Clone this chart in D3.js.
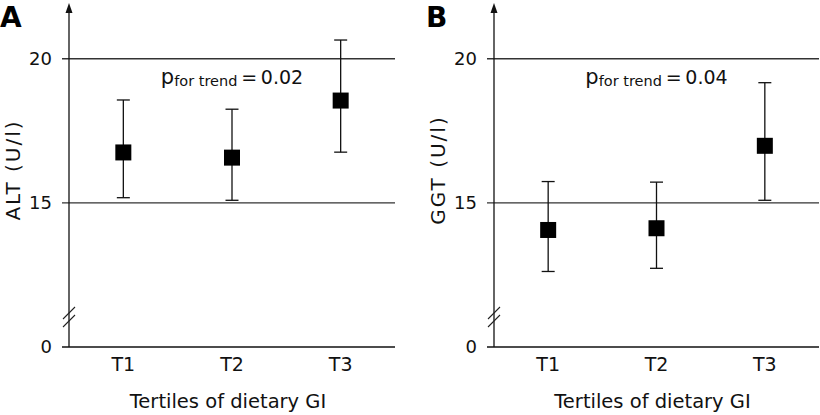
<!DOCTYPE html>
<html><head><meta charset="utf-8">
<script src="https://cdn.jsdelivr.net/npm/d3@7"></script>
<style>
html,body{margin:0;padding:0;background:#fff;}
svg{display:block;font-family:"DejaVu Sans",sans-serif;}
</style></head>
<body><svg id="c" width="820" height="415"></svg>
<script>
const categories = ["T1","T2","T3"];
const altMean = [16.75, 16.57, 18.55];
const altLow  = [15.18, 15.09, 16.76];
const altHigh = [18.57, 18.25, 20.65];
const ggtMean = [14.06, 14.12, 16.98];
const ggtLow  = [12.62, 12.73, 15.09];
const ggtHigh = [15.74, 15.72, 19.17];
const yTicks = [0, 15, 20];
// broken axis: visible range runs from 10 (shown as "0" below the break) up to ~21.9
const yDomain = [10, 21.9];
const panelLetters = ["A", "B"];
const yTitles = ["ALT (U/l)", "GGT (U/l)"];
const pValues = ["0.02", "0.04"];
const xTitle = "Tertiles of dietary GI";

const svg = d3.select("#c");
const panels = [
  {left: 69, right: 395, mean: altMean, low: altLow, high: altHigh},
  {left: 494, right: 819, mean: ggtMean, low: ggtLow, high: ggtHigh}
];

panels.forEach((p, i) => {
  const g = svg.append("g");
  const y = d3.scaleLinear().domain(yDomain).range([347, 4]);
  const yPos = t => t < yDomain[0] ? y(yDomain[0]) : y(t);
  const x = d3.scaleBand().domain(categories).range([p.left, p.right]).padding(0);
  const cx = c => x(c) + x.bandwidth() / 2;

  // horizontal reference lines & ticks
  yTicks.forEach(t => {
    g.append("line").attr("x1", p.left - 7).attr("x2", p.right)
      .attr("y1", yPos(t)).attr("y2", yPos(t))
      .attr("stroke", t === 0 ? "#111" : "#333").attr("stroke-width", 1.3);
    g.append("text").attr("x", p.left - 17).attr("y", yPos(t)).attr("dy", "0.36em")
      .attr("text-anchor", "end").attr("font-size", 18).attr("fill", "#111").text(t);
  });

  // y axis line with arrow
  const yTop = y(yDomain[1]);
  g.append("line").attr("x1", p.left).attr("x2", p.left)
    .attr("y1", y(yDomain[0])).attr("y2", yTop + 6).attr("stroke", "#111").attr("stroke-width", 1.3);
  g.append("path")
    .attr("d", `M${p.left},${yTop - 1} L${p.left - 3.5},${yTop + 9} L${p.left + 3.5},${yTop + 9} Z`)
    .attr("fill", "#111");

  // axis break marks
  const yb = y(yDomain[0]) - 30;
  [-4, 4].forEach(o => {
    g.append("line").attr("x1", p.left - 6).attr("x2", p.left + 6)
      .attr("y1", yb + o + 6).attr("y2", yb + o - 6)
      .attr("stroke", "#222").attr("stroke-width", 1.1);
  });

  // error bars
  categories.forEach((c, k) => {
    const xc = cx(c);
    g.append("line").attr("x1", xc).attr("x2", xc)
      .attr("y1", y(p.low[k])).attr("y2", y(p.high[k]))
      .attr("stroke", "#111").attr("stroke-width", 1.3);
    [p.low[k], p.high[k]].forEach(v => {
      g.append("line").attr("x1", xc - 6.5).attr("x2", xc + 6.5)
        .attr("y1", y(v)).attr("y2", y(v))
        .attr("stroke", "#111").attr("stroke-width", 1.3);
    });
    g.append("rect").attr("x", xc - 8).attr("y", y(p.mean[k]) - 8)
      .attr("width", 16).attr("height", 16).attr("fill", "#000");
    // x tick labels
    g.append("text").attr("x", xc).attr("y", 371).attr("text-anchor", "middle")
      .attr("font-size", 19).attr("fill", "#111").text(c);
  });

  // x title
  g.append("text").attr("x", (p.left + p.right) / 2 - 4).attr("y", 408)
    .attr("text-anchor", "middle").attr("font-size", 19.5).attr("fill", "#111").text(xTitle);

  // y title
  const ytx = p.left - 49;
  g.append("text").attr("transform", `translate(${ytx},170) rotate(-90)`)
    .attr("text-anchor", "middle").attr("font-size", 20).attr("letter-spacing", 2)
    .attr("fill", "#111").text(yTitles[i]);

  // panel letter
  g.append("text").attr("x", p.left - 69 + (i ? 1 : 0)).attr("y", 27)
    .attr("font-size", 28).attr("font-weight", "bold").attr("fill", "#000").text(panelLetters[i]);

  // p for trend
  const pt = g.append("text").attr("x", (p.left + p.right) / 2).attr("y", 84)
    .attr("text-anchor", "middle").attr("fill", "#111");
  pt.append("tspan").attr("font-size", 21).text("p");
  pt.append("tspan").attr("font-size", 14.5).attr("dy", 2).text("for trend");
  pt.append("tspan").attr("font-size", 19).attr("dy", -2).text("\u2009=\u2009" + pValues[i]);
});
</script></body></html>
